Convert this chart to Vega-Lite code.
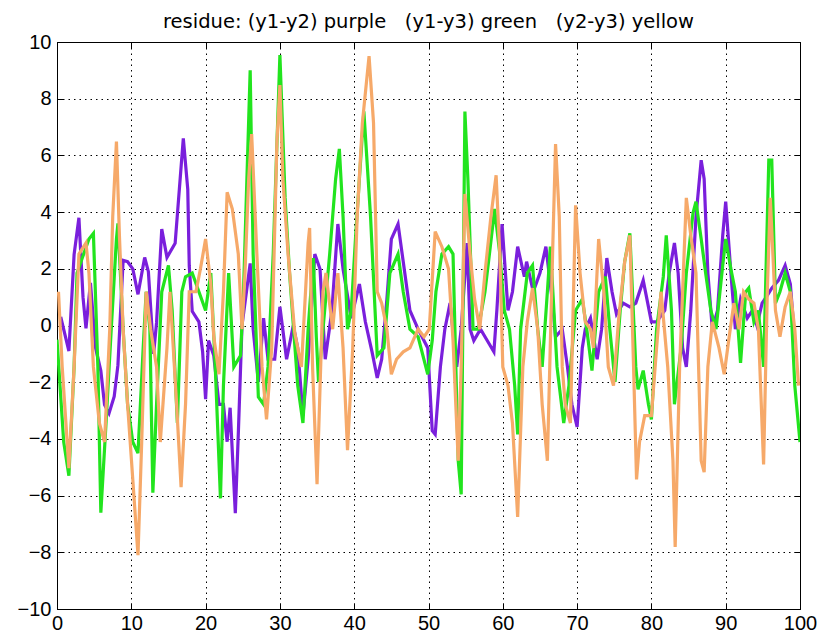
{
  "$schema": "https://vega.github.io/schema/vega-lite/v6.json",
  "autosize": "none",
  "width": 743,
  "height": 567,
  "padding": {"left": 57, "top": 42, "right": 21, "bottom": 34},
  "background": "white",
  "title": {"text": "residue: (y1-y2) purple \u00a0 (y1-y3) green \u00a0 (y2-y3) yellow", "font": "DejaVu Sans", "fontSize": 19.5, "fontWeight": "normal", "color": "#000", "offset": 0, "anchor": "middle"},
  "config": {
    "view": {"stroke": "#000", "strokeWidth": 1},
    "axis": {"labelFont": "Liberation Sans", "labelFontSize": 20, "labelColor": "#000", "domain": false, "tickColor": "#000", "tickSize": -6, "gridColor": "#000", "gridDash": [1.5, 4], "gridOpacity": 1, "gridWidth": 1, "title": null}
  },
  "data": {"values": [
    {"s":"a","x":0.5,"y":0.3},{"s":"a","x":1.6,"y":-0.9},{"s":"a","x":2.3,"y":2.5},{"s":"a","x":2.95,"y":3.8},{"s":"a","x":3.5,"y":1.0},{"s":"a","x":3.9,"y":-0.1},{"s":"a","x":4.5,"y":1.5},{"s":"a","x":5.2,"y":-0.8},{"s":"a","x":5.9,"y":-1.6},{"s":"a","x":6.4,"y":-2.8},{"s":"a","x":7.0,"y":-3.1},{"s":"a","x":7.7,"y":-2.5},{"s":"a","x":8.2,"y":-1.4},{"s":"a","x":8.9,"y":2.3},{"s":"a","x":9.5,"y":2.25},{"s":"a","x":10.2,"y":2.0},{"s":"a","x":10.9,"y":1.1},{"s":"a","x":11.8,"y":2.4},{"s":"a","x":12.3,"y":1.9},{"s":"a","x":13.0,"y":-1.0},{"s":"a","x":13.4,"y":0.1},{"s":"a","x":14.1,"y":3.4},{"s":"a","x":14.8,"y":2.4},{"s":"a","x":15.9,"y":2.9},{"s":"a","x":17.0,"y":6.6},{"s":"a","x":17.6,"y":4.8},{"s":"a","x":17.8,"y":2.1},{"s":"a","x":18.2,"y":0.5},{"s":"a","x":19.1,"y":0.13},{"s":"a","x":19.6,"y":-0.93},{"s":"a","x":20.0,"y":-2.6},{"s":"a","x":20.4,"y":-0.53},{"s":"a","x":21.1,"y":-1.06},{"s":"a","x":21.8,"y":-2.78},{"s":"a","x":22.4,"y":-2.78},{"s":"a","x":22.9,"y":-4.1},{"s":"a","x":23.3,"y":-2.9},{"s":"a","x":24.0,"y":-6.62},{"s":"a","x":24.4,"y":-3.84},{"s":"a","x":24.9,"y":0.0},{"s":"a","x":26.0,"y":2.19},{"s":"a","x":26.4,"y":-0.13},{"s":"a","x":27.1,"y":-1.99},{"s":"a","x":27.8,"y":0.26},{"s":"a","x":28.4,"y":-1.19},{"s":"a","x":29.3,"y":-1.19},{"s":"a","x":30.0,"y":0.66},{"s":"a","x":30.9,"y":-1.19},{"s":"a","x":31.8,"y":0.0},{"s":"a","x":32.4,"y":-0.79},{"s":"a","x":33.1,"y":-3.18},{"s":"a","x":33.8,"y":-1.19},{"s":"a","x":34.7,"y":2.52},{"s":"a","x":35.4,"y":1.99},{"s":"a","x":36.1,"y":-1.19},{"s":"a","x":37.0,"y":0.53},{"s":"a","x":37.8,"y":3.58},{"s":"a","x":38.5,"y":1.99},{"s":"a","x":39.6,"y":0.26},{"s":"a","x":40.7,"y":1.46},{"s":"a","x":41.5,"y":0.13},{"s":"a","x":42.4,"y":-0.93},{"s":"a","x":43.1,"y":-1.85},{"s":"a","x":43.7,"y":-1.19},{"s":"a","x":44.4,"y":0.93},{"s":"a","x":45.0,"y":3.05},{"s":"a","x":45.9,"y":3.58},{"s":"a","x":46.6,"y":2.25},{"s":"a","x":47.5,"y":0.53},{"s":"a","x":48.6,"y":-0.13},{"s":"a","x":49.9,"y":-0.79},{"s":"a","x":50.5,"y":-3.71},{"s":"a","x":50.9,"y":-3.84},{"s":"a","x":51.6,"y":-1.46},{"s":"a","x":52.2,"y":-0.13},{"s":"a","x":52.9,"y":0.79},{"s":"a","x":53.8,"y":-1.46},{"s":"a","x":54.4,"y":-0.13},{"s":"a","x":55.2,"y":2.91},{"s":"a","x":55.6,"y":-0.13},{"s":"a","x":56.1,"y":-0.53},{"s":"a","x":57.0,"y":-0.13},{"s":"a","x":57.9,"y":-0.53},{"s":"a","x":58.8,"y":-0.93},{"s":"a","x":59.2,"y":0.53},{"s":"a","x":59.9,"y":3.58},{"s":"a","x":60.7,"y":0.53},{"s":"a","x":61.3,"y":1.19},{"s":"a","x":62.0,"y":2.78},{"s":"a","x":62.9,"y":1.72},{"s":"a","x":63.2,"y":2.25},{"s":"a","x":64.1,"y":1.19},{"s":"a","x":65.0,"y":1.85},{"s":"a","x":65.8,"y":2.78},{"s":"a","x":66.7,"y":0.79},{"s":"a","x":67.1,"y":-0.4},{"s":"a","x":68.0,"y":-0.13},{"s":"a","x":68.7,"y":-1.46},{"s":"a","x":69.3,"y":-2.78},{"s":"a","x":70.0,"y":-3.58},{"s":"a","x":70.7,"y":-0.79},{"s":"a","x":71.1,"y":-0.13},{"s":"a","x":71.8,"y":0.26},{"s":"a","x":72.7,"y":-1.19},{"s":"a","x":73.3,"y":-0.13},{"s":"a","x":74.0,"y":2.38},{"s":"a","x":74.7,"y":1.19},{"s":"a","x":75.3,"y":0.4},{"s":"a","x":76.2,"y":0.79},{"s":"a","x":77.1,"y":0.66},{"s":"a","x":77.9,"y":0.79},{"s":"a","x":78.9,"y":1.59},{"s":"a","x":80.0,"y":0.13},{"s":"a","x":80.7,"y":0.13},{"s":"a","x":81.8,"y":0.53},{"s":"a","x":82.4,"y":1.85},{"s":"a","x":83.1,"y":2.91},{"s":"a","x":83.6,"y":1.85},{"s":"a","x":84.2,"y":-0.79},{"s":"a","x":84.7,"y":-1.46},{"s":"a","x":85.3,"y":0.53},{"s":"a","x":86.0,"y":3.84},{"s":"a","x":86.7,"y":5.83},{"s":"a","x":87.1,"y":5.17},{"s":"a","x":87.6,"y":1.85},{"s":"a","x":88.2,"y":-0.13},{"s":"a","x":88.9,"y":0.53},{"s":"a","x":89.6,"y":3.18},{"s":"a","x":90.0,"y":4.37},{"s":"a","x":90.7,"y":1.85},{"s":"a","x":91.3,"y":-0.13},{"s":"a","x":92.0,"y":0.93},{"s":"a","x":92.9,"y":0.26},{"s":"a","x":93.6,"y":0.53},{"s":"a","x":94.2,"y":0.0},{"s":"a","x":94.9,"y":0.79},{"s":"a","x":95.6,"y":1.06},{"s":"a","x":96.2,"y":1.32},{"s":"a","x":97.1,"y":1.59},{"s":"a","x":98.0,"y":2.12},{"s":"a","x":98.7,"y":1.46},{"s":"a","x":99.1,"y":0.13},

    {"s":"b","x":0.0,"y":-0.5},{"s":"b","x":0.9,"y":-4.1},{"s":"b","x":1.6,"y":-5.3},{"s":"b","x":2.3,"y":-1.46},{"s":"b","x":2.7,"y":1.85},{"s":"b","x":3.4,"y":2.38},{"s":"b","x":4.3,"y":3.05},{"s":"b","x":4.9,"y":3.25},{"s":"b","x":5.5,"y":-1.46},{"s":"b","x":5.9,"y":-6.6},{"s":"b","x":6.6,"y":-3.44},{"s":"b","x":7.3,"y":-0.13},{"s":"b","x":8.0,"y":3.05},{"s":"b","x":8.2,"y":3.6},{"s":"b","x":8.9,"y":-0.13},{"s":"b","x":9.5,"y":-2.78},{"s":"b","x":10.2,"y":-4.11},{"s":"b","x":10.9,"y":-4.5},{"s":"b","x":11.6,"y":-0.79},{"s":"b","x":12.0,"y":1.19},{"s":"b","x":12.5,"y":-0.13},{"s":"b","x":12.9,"y":-5.9},{"s":"b","x":13.4,"y":-2.78},{"s":"b","x":14.1,"y":1.19},{"s":"b","x":15.0,"y":2.12},{"s":"b","x":15.5,"y":0.53},{"s":"b","x":16.2,"y":-3.44},{"s":"b","x":16.8,"y":1.19},{"s":"b","x":17.3,"y":1.72},{"s":"b","x":18.2,"y":1.85},{"s":"b","x":19.1,"y":1.19},{"s":"b","x":20.0,"y":0.53},{"s":"b","x":20.7,"y":1.85},{"s":"b","x":21.3,"y":-1.46},{"s":"b","x":22.0,"y":-6.1},{"s":"b","x":22.4,"y":-2.12},{"s":"b","x":23.1,"y":1.85},{"s":"b","x":23.8,"y":-1.46},{"s":"b","x":24.7,"y":-1.06},{"s":"b","x":25.1,"y":1.19},{"s":"b","x":26.0,"y":9.0},{"s":"b","x":26.4,"y":2.52},{"s":"b","x":27.1,"y":-2.52},{"s":"b","x":27.8,"y":-2.78},{"s":"b","x":28.4,"y":-1.46},{"s":"b","x":29.1,"y":2.52},{"s":"b","x":30.0,"y":9.54},{"s":"b","x":30.7,"y":4.5},{"s":"b","x":31.3,"y":1.85},{"s":"b","x":32.4,"y":-2.12},{"s":"b","x":33.1,"y":-3.44},{"s":"b","x":33.8,"y":-0.13},{"s":"b","x":34.5,"y":2.38},{"s":"b","x":34.9,"y":-0.4},{"s":"b","x":35.2,"y":-1.99},{"s":"b","x":35.8,"y":-0.13},{"s":"b","x":36.7,"y":2.52},{"s":"b","x":37.5,"y":5.17},{"s":"b","x":38.0,"y":6.23},{"s":"b","x":38.5,"y":3.84},{"s":"b","x":39.1,"y":-0.13},{"s":"b","x":39.6,"y":0.53},{"s":"b","x":40.2,"y":3.18},{"s":"b","x":40.7,"y":5.17},{"s":"b","x":41.3,"y":7.55},{"s":"b","x":42.2,"y":3.84},{"s":"b","x":43.1,"y":-1.06},{"s":"b","x":44.0,"y":-0.79},{"s":"b","x":44.8,"y":1.85},{"s":"b","x":45.9,"y":2.52},{"s":"b","x":46.6,"y":1.19},{"s":"b","x":47.5,"y":-0.13},{"s":"b","x":48.6,"y":-0.4},{"s":"b","x":49.9,"y":-1.72},{"s":"b","x":50.5,"y":-0.53},{"s":"b","x":51.0,"y":1.19},{"s":"b","x":51.8,"y":2.52},{"s":"b","x":52.7,"y":2.78},{"s":"b","x":53.3,"y":2.52},{"s":"b","x":54.0,"y":-4.77},{"s":"b","x":54.4,"y":-5.96},{"s":"b","x":54.9,"y":7.55},{"s":"b","x":55.3,"y":5.17},{"s":"b","x":56.0,"y":-0.13},{"s":"b","x":56.7,"y":-0.13},{"s":"b","x":57.6,"y":1.19},{"s":"b","x":58.2,"y":2.52},{"s":"b","x":58.9,"y":4.11},{"s":"b","x":59.6,"y":2.52},{"s":"b","x":60.2,"y":0.53},{"s":"b","x":60.9,"y":-0.13},{"s":"b","x":61.6,"y":-2.12},{"s":"b","x":62.0,"y":-3.84},{"s":"b","x":62.4,"y":-0.13},{"s":"b","x":63.3,"y":1.85},{"s":"b","x":64.0,"y":2.12},{"s":"b","x":64.7,"y":-0.13},{"s":"b","x":65.3,"y":-1.46},{"s":"b","x":66.0,"y":1.19},{"s":"b","x":66.4,"y":2.78},{"s":"b","x":67.3,"y":-1.46},{"s":"b","x":68.2,"y":-3.44},{"s":"b","x":68.9,"y":-2.12},{"s":"b","x":69.8,"y":0.53},{"s":"b","x":70.7,"y":0.93},{"s":"b","x":71.3,"y":-0.13},{"s":"b","x":72.0,"y":-1.59},{"s":"b","x":72.9,"y":1.19},{"s":"b","x":73.8,"y":1.72},{"s":"b","x":74.4,"y":-0.13},{"s":"b","x":75.1,"y":-1.99},{"s":"b","x":75.8,"y":0.53},{"s":"b","x":76.4,"y":2.25},{"s":"b","x":77.1,"y":3.25},{"s":"b","x":77.9,"y":-1.46},{"s":"b","x":78.2,"y":-2.25},{"s":"b","x":78.9,"y":-1.59},{"s":"b","x":79.6,"y":-2.78},{"s":"b","x":80.0,"y":-3.31},{"s":"b","x":80.7,"y":-0.13},{"s":"b","x":81.6,"y":1.72},{"s":"b","x":82.0,"y":3.18},{"s":"b","x":82.7,"y":0.53},{"s":"b","x":83.1,"y":-2.78},{"s":"b","x":84.0,"y":-0.79},{"s":"b","x":84.7,"y":1.85},{"s":"b","x":85.6,"y":3.97},{"s":"b","x":86.0,"y":4.37},{"s":"b","x":86.7,"y":3.05},{"s":"b","x":87.3,"y":1.85},{"s":"b","x":88.0,"y":0.53},{"s":"b","x":88.7,"y":-0.13},{"s":"b","x":89.6,"y":2.12},{"s":"b","x":90.0,"y":3.05},{"s":"b","x":90.7,"y":1.99},{"s":"b","x":91.3,"y":1.19},{"s":"b","x":92.0,"y":-1.32},{"s":"b","x":92.7,"y":1.19},{"s":"b","x":93.1,"y":1.32},{"s":"b","x":93.8,"y":0.13},{"s":"b","x":94.4,"y":0.53},{"s":"b","x":95.1,"y":-1.46},{"s":"b","x":95.8,"y":5.83},{"s":"b","x":96.2,"y":5.83},{"s":"b","x":96.7,"y":0.79},{"s":"b","x":97.3,"y":1.19},{"s":"b","x":98.0,"y":1.85},{"s":"b","x":98.7,"y":1.19},{"s":"b","x":99.3,"y":-2.12},{"s":"b","x":100.0,"y":-4.11},

    {"s":"c","x":0.2,"y":1.19},{"s":"c","x":0.7,"y":-1.46},{"s":"c","x":1.6,"y":-5.03},{"s":"c","x":2.3,"y":-1.46},{"s":"c","x":2.95,"y":2.52},{"s":"c","x":3.9,"y":2.91},{"s":"c","x":4.3,"y":1.85},{"s":"c","x":4.9,"y":-1.46},{"s":"c","x":5.7,"y":-3.44},{"s":"c","x":6.4,"y":-4.11},{"s":"c","x":7.1,"y":-0.13},{"s":"c","x":7.5,"y":3.84},{"s":"c","x":8.0,"y":6.49},{"s":"c","x":8.4,"y":3.18},{"s":"c","x":8.9,"y":-0.13},{"s":"c","x":9.5,"y":-2.78},{"s":"c","x":10.2,"y":-5.43},{"s":"c","x":10.9,"y":-8.1},{"s":"c","x":11.4,"y":-4.11},{"s":"c","x":12.0,"y":1.19},{"s":"c","x":12.6,"y":-0.13},{"s":"c","x":13.4,"y":-1.46},{"s":"c","x":13.9,"y":-4.11},{"s":"c","x":14.8,"y":-0.79},{"s":"c","x":15.2,"y":1.19},{"s":"c","x":16.1,"y":-2.78},{"s":"c","x":16.7,"y":-5.7},{"s":"c","x":17.3,"y":-2.78},{"s":"c","x":17.8,"y":1.19},{"s":"c","x":18.7,"y":1.19},{"s":"c","x":19.3,"y":1.99},{"s":"c","x":20.0,"y":3.05},{"s":"c","x":20.7,"y":1.46},{"s":"c","x":21.1,"y":-0.4},{"s":"c","x":21.8,"y":-1.72},{"s":"c","x":22.4,"y":1.19},{"s":"c","x":22.9,"y":4.7},{"s":"c","x":23.6,"y":4.11},{"s":"c","x":24.4,"y":2.52},{"s":"c","x":24.9,"y":-0.13},{"s":"c","x":25.3,"y":1.85},{"s":"c","x":25.8,"y":5.17},{"s":"c","x":26.2,"y":6.75},{"s":"c","x":26.9,"y":2.52},{"s":"c","x":27.6,"y":-1.46},{"s":"c","x":28.2,"y":-3.31},{"s":"c","x":28.9,"y":-0.79},{"s":"c","x":29.6,"y":6.49},{"s":"c","x":30.0,"y":8.48},{"s":"c","x":30.4,"y":5.17},{"s":"c","x":31.1,"y":2.52},{"s":"c","x":32.0,"y":-0.26},{"s":"c","x":32.9,"y":-1.46},{"s":"c","x":33.8,"y":2.91},{"s":"c","x":34.0,"y":3.44},{"s":"c","x":34.4,"y":-1.5},{"s":"c","x":35.0,"y":-5.6},{"s":"c","x":35.8,"y":1.19},{"s":"c","x":36.2,"y":1.85},{"s":"c","x":37.1,"y":-0.13},{"s":"c","x":37.8,"y":1.85},{"s":"c","x":38.5,"y":-0.79},{"s":"c","x":39.1,"y":-4.4},{"s":"c","x":39.8,"y":-0.79},{"s":"c","x":40.4,"y":3.84},{"s":"c","x":41.1,"y":7.15},{"s":"c","x":42.0,"y":9.5},{"s":"c","x":42.6,"y":7.15},{"s":"c","x":43.1,"y":1.19},{"s":"c","x":43.7,"y":0.79},{"s":"c","x":44.4,"y":-0.13},{"s":"c","x":45.0,"y":-1.72},{"s":"c","x":45.7,"y":-1.19},{"s":"c","x":46.6,"y":-0.93},{"s":"c","x":47.5,"y":-0.79},{"s":"c","x":48.6,"y":-0.13},{"s":"c","x":49.4,"y":-0.4},{"s":"c","x":50.1,"y":-0.13},{"s":"c","x":50.9,"y":3.31},{"s":"c","x":51.8,"y":2.78},{"s":"c","x":52.7,"y":1.99},{"s":"c","x":53.3,"y":-0.53},{"s":"c","x":54.0,"y":-4.77},{"s":"c","x":54.4,"y":-1.46},{"s":"c","x":54.9,"y":4.64},{"s":"c","x":55.6,"y":2.52},{"s":"c","x":56.2,"y":0.93},{"s":"c","x":56.9,"y":-0.13},{"s":"c","x":57.6,"y":1.85},{"s":"c","x":58.4,"y":3.84},{"s":"c","x":59.1,"y":5.3},{"s":"c","x":59.6,"y":2.52},{"s":"c","x":60.0,"y":-1.46},{"s":"c","x":60.7,"y":-2.12},{"s":"c","x":61.3,"y":-3.44},{"s":"c","x":62.0,"y":-6.75},{"s":"c","x":62.7,"y":-1.46},{"s":"c","x":63.3,"y":0.13},{"s":"c","x":64.0,"y":1.32},{"s":"c","x":64.7,"y":-0.13},{"s":"c","x":65.3,"y":-2.78},{"s":"c","x":66.0,"y":-4.77},{"s":"c","x":66.7,"y":2.52},{"s":"c","x":67.1,"y":6.4},{"s":"c","x":67.6,"y":3.84},{"s":"c","x":68.0,"y":-1.46},{"s":"c","x":68.4,"y":-2.78},{"s":"c","x":69.1,"y":-3.44},{"s":"c","x":69.8,"y":4.24},{"s":"c","x":70.4,"y":1.85},{"s":"c","x":71.1,"y":0.13},{"s":"c","x":71.8,"y":-0.13},{"s":"c","x":72.2,"y":-0.79},{"s":"c","x":72.9,"y":3.05},{"s":"c","x":73.6,"y":1.19},{"s":"c","x":74.2,"y":-1.46},{"s":"c","x":74.9,"y":-2.12},{"s":"c","x":75.6,"y":0.26},{"s":"c","x":76.4,"y":2.25},{"s":"c","x":77.1,"y":3.18},{"s":"c","x":77.6,"y":-1.46},{"s":"c","x":78.0,"y":-5.43},{"s":"c","x":78.4,"y":-4.11},{"s":"c","x":79.1,"y":-3.18},{"s":"c","x":80.0,"y":-3.18},{"s":"c","x":80.7,"y":-0.79},{"s":"c","x":81.3,"y":1.19},{"s":"c","x":82.2,"y":-1.46},{"s":"c","x":82.9,"y":-4.77},{"s":"c","x":83.2,"y":-7.81},{"s":"c","x":83.8,"y":-1.46},{"s":"c","x":84.7,"y":4.5},{"s":"c","x":85.3,"y":3.18},{"s":"c","x":86.0,"y":1.85},{"s":"c","x":86.7,"y":-4.77},{"s":"c","x":87.1,"y":-5.17},{"s":"c","x":87.6,"y":-1.46},{"s":"c","x":88.2,"y":0.13},{"s":"c","x":89.1,"y":-0.79},{"s":"c","x":89.8,"y":-1.72},{"s":"c","x":90.4,"y":-0.53},{"s":"c","x":91.1,"y":0.79},{"s":"c","x":91.8,"y":-0.13},{"s":"c","x":92.4,"y":1.19},{"s":"c","x":93.1,"y":0.93},{"s":"c","x":93.8,"y":0.79},{"s":"c","x":94.4,"y":-0.13},{"s":"c","x":95.1,"y":-4.9},{"s":"c","x":95.6,"y":1.19},{"s":"c","x":96.0,"y":4.5},{"s":"c","x":96.7,"y":0.53},{"s":"c","x":97.3,"y":-0.4},{"s":"c","x":98.0,"y":0.66},{"s":"c","x":98.7,"y":1.19},{"s":"c","x":99.3,"y":-0.13},{"s":"c","x":99.8,"y":-2.12}
  ]},
  "layer": [
    {
      "mark": {"type": "line", "strokeWidth": 3.2, "strokeJoin": "miter", "clip": true},
      "encoding": {
        "x": {"field": "x", "type": "quantitative", "scale": {"domain": [0, 100], "nice": false, "zero": false}, "axis": {"values": [0,10,20,30,40,50,60,70,80,90,100], "labelPadding": 10, "labelFlush": false}},
        "y": {"field": "y", "type": "quantitative", "scale": {"domain": [-10, 10], "nice": false}, "axis": {"values": [-10,-8,-6,-4,-2,0,2,4,6,8,10], "labelPadding": 12, "labelFlush": false}},
        "color": {"field": "s", "type": "nominal", "scale": {"domain": ["a","b","c"], "range": ["#7a1fdc", "#22e41e", "#f6a969"]}, "legend": null},
        "order": {"field": "x", "type": "quantitative"}
      }
    },
    {
      "mark": {"type": "line", "opacity": 0},
      "encoding": {
        "x": {"field": "x", "type": "quantitative", "scale": {"domain": [0, 100], "nice": false, "zero": false}, "axis": {"orient": "top", "values": [0,10,20,30,40,50,60,70,80,90,100], "labels": false, "grid": false}},
        "y": {"field": "y", "type": "quantitative", "scale": {"domain": [-10, 10], "nice": false}, "axis": {"orient": "right", "values": [-10,-8,-6,-4,-2,0,2,4,6,8,10], "labels": false, "grid": false}},
        "detail": {"field": "s", "type": "nominal"}
      }
    }
  ],
  "resolve": {"axis": {"x": "independent", "y": "independent"}}
}
